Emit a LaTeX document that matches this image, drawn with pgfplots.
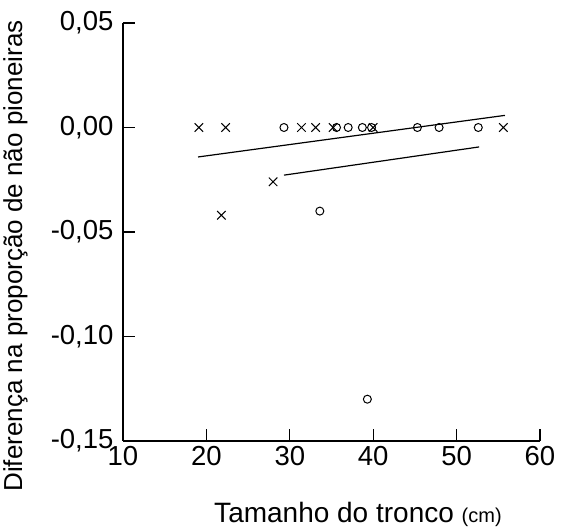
\documentclass[border=0pt]{standalone}
\usepackage{fontspec}
\setmainfont{Liberation Sans}
\usepackage{pgfplots}
\pgfplotsset{compat=1.18}

\begin{document}
\begin{tikzpicture}
\begin{axis}[
  scale only axis,
  width=417pt, height=418pt,
  xmin=10, xmax=60,
  ymin=-0.15, ymax=0.05,
  axis lines=left,
  axis line style={-, line width=1.2pt},
  tick style={line width=1.2pt, black},
  major tick length=12pt,
  tick align=inside,
  xtick={10,20,30,40,50,60},
  xticklabels={10,20,30,40,50,60},
  ytick={-0.15,-0.10,-0.05,0,0.05},
  yticklabels={{-0,15},{-0,10},{-0,05},{0,00},{0,05}},
  ticklabel style={font=\fontsize{27.5}{32}\selectfont},
  yticklabel style={xshift=-6pt},
  xticklabel style={yshift=-2pt},
  xlabel={\fontsize{28}{34}\selectfont Tamanho do tronco {\fontsize{20}{24}\selectfont(cm)}},
  xlabel style={at={(axis description cs:0.5635,-0.196)}, anchor=base},
  ylabel={\fontsize{26}{30}\selectfont Diferença na proporção de não pioneiras},
  ylabel style={at={(axis description cs:-0.242,0.4426)}, anchor=base},
  clip=false,
]

% serie x
\addplot[only marks, mark=x, mark size=6pt, mark options={line width=1pt}] coordinates {
  (19.1,0) (22.3,0) (31.4,0) (33.1,0) (35.2,0) (40.0,0) (55.6,0)
  (28.0,-0.026) (21.8,-0.042)
};

% serie o
\addplot[only marks, mark=o, mark size=4pt, mark options={line width=1pt}] coordinates {
  (29.3,0) (35.6,0) (37.0,0) (38.7,0) (39.8,0) (45.3,0) (47.9,0) (52.6,0)
  (33.6,-0.040) (39.3,-0.130)
};

% retas de regressao
\addplot[black, line width=1.2pt] coordinates {(19.0,-0.0141) (55.8,0.0058)};
\addplot[black, line width=1.2pt] coordinates {(29.3,-0.0228) (52.7,-0.0093)};

\coordinate (SW) at (rel axis cs:0,0);
\coordinate (NE) at (rel axis cs:1,1);
\end{axis}
\pgfresetboundingbox
\path[use as bounding box] ([xshift=-123pt,yshift=-89pt]SW) rectangle ([xshift=26pt,yshift=23pt]NE);
\end{tikzpicture}
\end{document}
